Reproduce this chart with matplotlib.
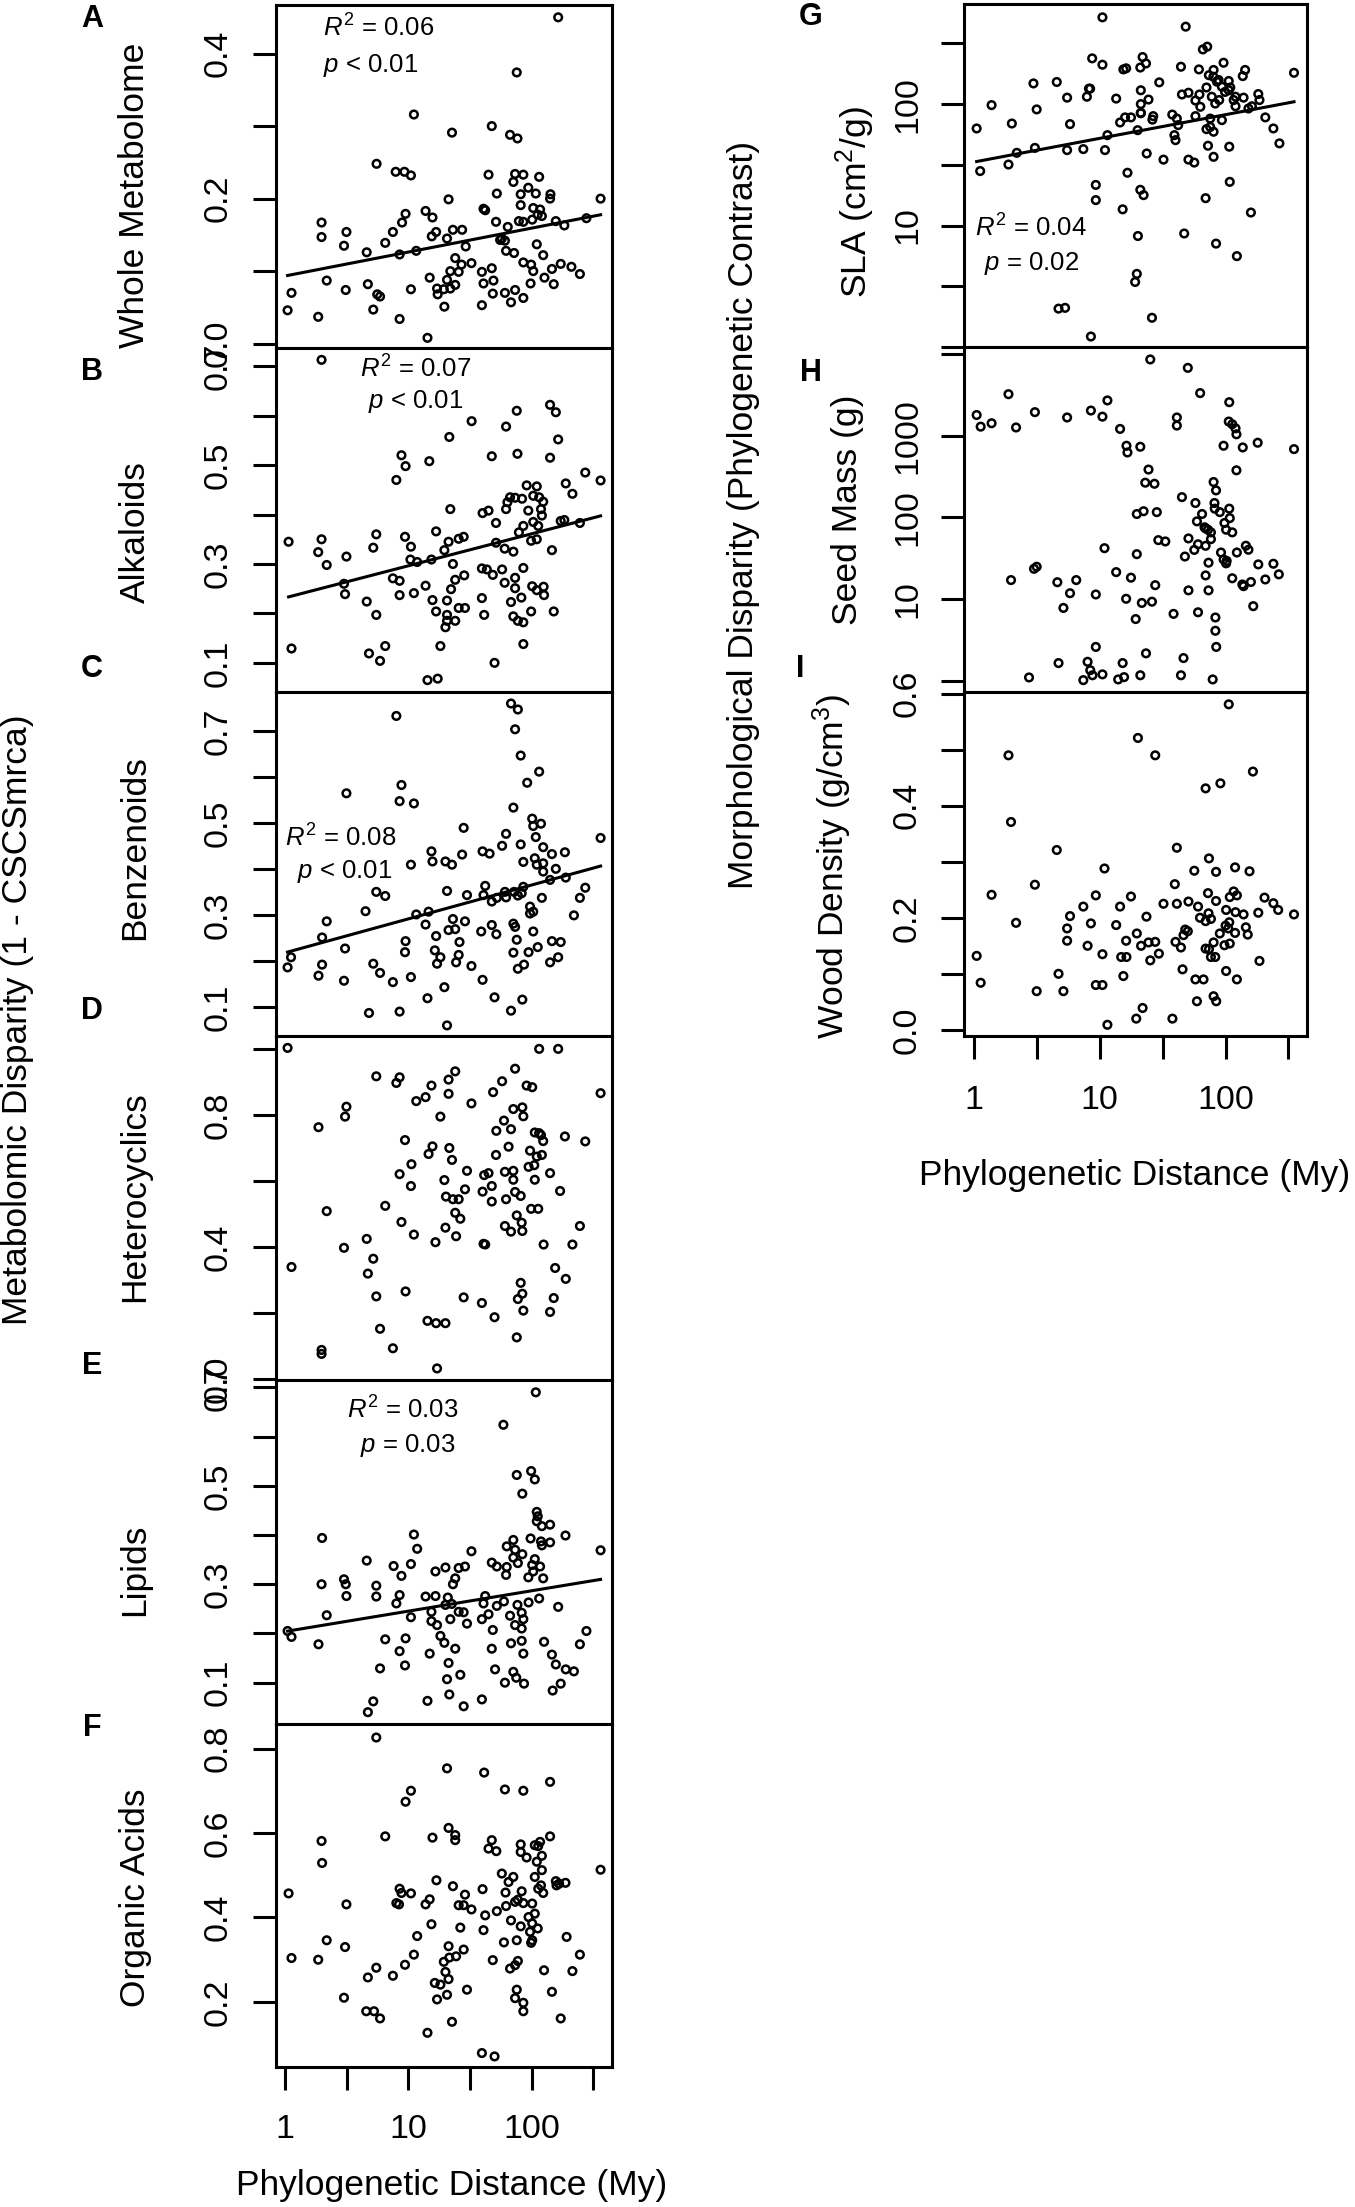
import numpy as np
import matplotlib
matplotlib.use("Agg")
import matplotlib.pyplot as plt
from matplotlib.ticker import NullLocator

plt.rcParams['font.family'] = ['Liberation Sans', 'DejaVu Sans']
plt.rcParams['mathtext.fontset'] = 'custom'
plt.rcParams['mathtext.rm'] = 'Liberation Sans'
plt.rcParams['mathtext.it'] = 'Liberation Sans:italic'
plt.rcParams['mathtext.bf'] = 'Liberation Sans:bold'

# ---------------- data (phylogenetic distance in My, disparity values) ----------------
dist_A = [164, 75.7, 11.1, 22.6, 47.5, 66.8, 76.7, 5.53, 7.9, 9.3,
          10.5, 44.7, 73.4, 85.6, 115, 71.1, 93.9, 52.2, 81.5, 108,
          142, 141, 21.2, 362, 81.5, 40.7, 42.0, 103, 117, 112,
          121, 13.8, 15.7, 9.5, 8.9, 7.5, 6.5, 4.6, 8.5, 11.6,
          1.98, 1.98, 3.15, 3.01, 15.5, 16.8, 20.6, 23.0, 27.3, 29.2,
          51.4, 64.0, 57.3, 60.7, 78.8, 85.6, 101, 157, 184, 278,
          62.0, 72.0, 110, 124, 85.6, 99.0, 103, 146, 172, 210,
          246, 127, 151, 98.0, 24.0, 27.0, 32.5, 21.9, 25.6, 20.6,
          24.0, 14.9, 17.1, 19.4, 21.9, 17.3, 39.5, 47.5, 40.7, 49.0,
          48.4, 60.7, 73.4, 68.0, 85.6, 39.5, 19.6, 14.3, 8.5, 5.2,
          5.9, 4.7, 3.11, 2.18, 1.86, 1.13, 1.05, 10.5, 5.6, 55.5]
whole_A = [0.450, 0.374, 0.316, 0.291, 0.300, 0.288, 0.283, 0.248, 0.237, 0.237,
           0.232, 0.233, 0.234, 0.233, 0.230, 0.223, 0.215, 0.207, 0.206, 0.207,
           0.206, 0.200, 0.199, 0.200, 0.191, 0.186, 0.184, 0.187, 0.185, 0.178,
           0.176, 0.183, 0.174, 0.179, 0.167, 0.154, 0.139, 0.126, 0.123, 0.128,
           0.167, 0.147, 0.154, 0.135, 0.148, 0.154, 0.145, 0.157, 0.157, 0.134,
           0.168, 0.161, 0.145, 0.142, 0.169, 0.168, 0.171, 0.169, 0.163, 0.173,
           0.128, 0.125, 0.137, 0.122, 0.112, 0.109, 0.100, 0.103, 0.110, 0.106,
           0.096, 0.091, 0.082, 0.083, 0.118, 0.109, 0.111, 0.100, 0.099, 0.088,
           0.081, 0.091, 0.076, 0.075, 0.076, 0.068, 0.099, 0.104, 0.083, 0.087,
           0.069, 0.070, 0.074, 0.057, 0.063, 0.053, 0.051, 0.008, 0.034, 0.047,
           0.065, 0.082, 0.074, 0.087, 0.037, 0.070, 0.046, 0.075, 0.068, 0.143]

dist_B = [1.98, 141, 157, 75.7, 32.6, 62.0, 21.5, 164, 8.8, 9.5,
          8.0, 14.8, 47.5, 76.7, 141, 272, 362, 189, 214, 91.1,
          110, 66.8, 73.4, 83.6, 103, 115, 124, 63.6, 62.0, 93.9,
          119, 21.9, 40.0, 44.7, 121, 51.4, 103, 85.6, 78.8, 113,
          172, 184, 246, 5.5, 16.8, 9.4, 10.5, 25.6, 28.1, 21.2,
          19.6, 5.2, 1.98, 1.86, 3.15, 2.18, 1.07, 10.4, 11.8, 15.4,
          23.0, 51.4, 60.4, 71.1, 99.0, 110, 146, 39.5, 43.3, 48.4,
          57.6, 85.6, 73.4, 60.4, 73.4, 101, 125, 110, 126, 82.5,
          68.0, 3.01, 3.07, 7.5, 8.5, 8.5, 11.1, 13.8, 28.4, 24.0,
          22.2, 20.6, 15.7, 39.5, 4.6, 5.5, 16.8, 20.6, 25.6, 28.8,
          24.0, 20.6, 20.0, 41.2, 71.0, 77.3, 85.6, 99.0, 151, 1.13,
          4.8, 5.9, 6.5, 18.2, 85.6, 50.0, 14.3, 17.3]
alkaloids = [0.713, 0.622, 0.607, 0.610, 0.589, 0.578, 0.557, 0.552, 0.520, 0.498,
             0.470, 0.508, 0.518, 0.523, 0.515, 0.485, 0.469, 0.463, 0.442, 0.459,
             0.457, 0.435, 0.434, 0.432, 0.438, 0.435, 0.426, 0.425, 0.411, 0.408,
             0.411, 0.411, 0.403, 0.408, 0.398, 0.383, 0.385, 0.377, 0.364, 0.377,
             0.387, 0.389, 0.383, 0.360, 0.366, 0.355, 0.335, 0.351, 0.355, 0.345,
             0.328, 0.333, 0.350, 0.324, 0.315, 0.298, 0.345, 0.309, 0.304, 0.309,
             0.300, 0.343, 0.331, 0.325, 0.347, 0.350, 0.328, 0.291, 0.289, 0.278,
             0.289, 0.292, 0.272, 0.262, 0.251, 0.255, 0.254, 0.247, 0.237, 0.232,
             0.223, 0.260, 0.239, 0.271, 0.266, 0.237, 0.241, 0.256, 0.277, 0.268,
             0.249, 0.226, 0.227, 0.231, 0.224, 0.197, 0.204, 0.197, 0.211, 0.211,
             0.185, 0.185, 0.172, 0.197, 0.194, 0.185, 0.182, 0.204, 0.204, 0.129,
             0.119, 0.104, 0.134, 0.134, 0.138, 0.100, 0.065, 0.068]

dist_C = [68.0, 77.3, 8.0, 73.4, 81.5, 115, 92.0, 8.8, 3.15, 8.5,
          11.1, 71.1, 101, 119, 103, 28.1, 62.0, 108, 362, 57.6,
          81.5, 124, 15.4, 15.7, 20.0, 22.6, 27.3, 40.0, 45.6, 146,
          186, 10.5, 85.6, 106, 110, 124, 157, 124, 141, 189,
          272, 246, 220, 5.5, 6.5, 20.6, 29.9, 42.0, 40.7, 47.5,
          52.2, 60.7, 62.0, 72.0, 77.3, 85.6, 83.0, 121, 97.0, 103,
          97.0, 4.5, 11.6, 14.6, 2.18, 2.0, 13.8, 16.8, 21.2, 23.0,
          24.0, 28.8, 26.0, 39.0, 47.5, 51.7, 71.1, 73.4, 103, 75.7,
          112, 94.4, 71.1, 146, 172, 164, 141, 86.7, 77.3, 3.07,
          9.5, 9.4, 16.4, 18.2, 17.1, 25.6, 24.4, 32.5, 1.12, 1.05,
          2.0, 1.87, 3.01, 5.2, 5.9, 7.5, 10.5, 40.0, 19.6, 14.3,
          50.0, 84.0, 68.0, 4.8, 8.5, 20.6]
benzenoids = [0.760, 0.747, 0.733, 0.704, 0.647, 0.612, 0.588, 0.583, 0.565, 0.548,
              0.543, 0.534, 0.510, 0.499, 0.494, 0.490, 0.477, 0.470, 0.468, 0.451,
              0.454, 0.448, 0.439, 0.417, 0.417, 0.410, 0.432, 0.439, 0.434, 0.433,
              0.437, 0.410, 0.416, 0.424, 0.410, 0.413, 0.401, 0.395, 0.377, 0.382,
              0.360, 0.338, 0.300, 0.351, 0.342, 0.353, 0.344, 0.364, 0.344, 0.330,
              0.338, 0.351, 0.339, 0.351, 0.343, 0.362, 0.348, 0.338, 0.319, 0.308,
              0.304, 0.309, 0.302, 0.308, 0.287, 0.252, 0.280, 0.255, 0.268, 0.292,
              0.270, 0.287, 0.242, 0.265, 0.279, 0.259, 0.282, 0.275, 0.265, 0.247,
              0.231, 0.220, 0.219, 0.244, 0.242, 0.209, 0.198, 0.193, 0.184, 0.228,
              0.244, 0.220, 0.224, 0.209, 0.195, 0.214, 0.198, 0.190, 0.209, 0.187,
              0.193, 0.169, 0.158, 0.195, 0.175, 0.155, 0.166, 0.160, 0.144, 0.120,
              0.122, 0.117, 0.093, 0.088, 0.091, 0.061]

dist_D = [1.05, 115, 164, 73.4, 24.0, 5.5, 8.5, 8.0, 21.2, 57.6,
          91.0, 101, 15.4, 48.7, 21.2, 13.8, 11.6, 32.5, 362, 3.15,
          3.07, 71.0, 84.0, 85.6, 18.2, 59.6, 1.87, 51.7, 68.0, 106,
          115, 119, 186, 272, 124, 9.4, 15.7, 21.5, 14.6, 22.6,
          65.0, 51.4, 97.0, 110, 121, 10.6, 29.9, 94.4, 105, 8.5,
          41.2, 44.7, 60.7, 71.0, 141, 71.0, 106, 19.6, 10.5, 47.5,
          28.8, 40.0, 73.4, 81.5, 170, 20.2, 23.0, 25.6, 47.5, 62.0,
          6.5, 2.18, 99.0, 113, 24.0, 26.4, 75.7, 8.8, 20.0, 60.7,
          83.0, 68.0, 84.0, 246, 11.1, 24.4, 4.6, 16.6, 40.7, 42.0,
          125, 214, 3.01, 5.2, 1.13, 4.7, 155, 189, 81.5, 84.0,
          77.3, 9.5, 5.5, 28.1, 39.5, 151, 141, 85.6, 50.0, 14.3,
          16.8, 20.0, 5.9, 75.7, 7.5, 1.98, 1.98, 17.1]
heterocyclics = [1.003, 1.000, 1.000, 0.940, 0.932, 0.917, 0.914, 0.897, 0.907, 0.902,
                 0.889, 0.884, 0.889, 0.869, 0.864, 0.854, 0.842, 0.835, 0.866, 0.825,
                 0.795, 0.818, 0.823, 0.796, 0.795, 0.783, 0.763, 0.752, 0.757, 0.747,
                 0.745, 0.739, 0.735, 0.720, 0.721, 0.724, 0.705, 0.700, 0.682, 0.664,
                 0.704, 0.679, 0.692, 0.674, 0.679, 0.651, 0.631, 0.643, 0.648, 0.621,
                 0.618, 0.624, 0.628, 0.631, 0.624, 0.604, 0.604, 0.603, 0.585, 0.585,
                 0.575, 0.568, 0.567, 0.555, 0.570, 0.553, 0.545, 0.545, 0.538, 0.545,
                 0.525, 0.509, 0.516, 0.516, 0.504, 0.486, 0.496, 0.476, 0.459, 0.464,
                 0.474, 0.447, 0.449, 0.464, 0.438, 0.433, 0.425, 0.415, 0.410, 0.408,
                 0.408, 0.408, 0.398, 0.365, 0.340, 0.320, 0.337, 0.304, 0.292, 0.259,
                 0.243, 0.266, 0.251, 0.248, 0.231, 0.246, 0.204, 0.208, 0.188, 0.177,
                 0.170, 0.170, 0.153, 0.127, 0.094, 0.089, 0.077, 0.033]

dist_E = [108, 59.0, 75.7, 99.0, 106, 84.0, 110, 112, 110, 121,
          141, 11.1, 2.0, 188, 71.0, 98.0, 119, 141, 121, 62.8,
          73.4, 84.0, 362, 32.5, 11.8, 71.0, 106, 77.3, 101, 117,
          47.5, 52.2, 62.8, 62.0, 94.0, 124, 103, 4.6, 7.6, 10.5,
          8.8, 16.6, 20.0, 25.6, 28.8, 24.0, 23.0, 3.01, 3.11, 1.98,
          5.5, 3.15, 5.5, 8.5, 8.0, 13.8, 16.6, 20.9, 20.0, 22.5,
          42.0, 40.7, 52.2, 59.6, 76.7, 94.4, 115, 164, 2.18, 10.5,
          15.4, 15.4, 17.1, 21.9, 25.6, 28.1, 29.9, 39.5, 44.7, 66.8,
          83.0, 73.4, 85.6, 83.0, 48.4, 278, 1.05, 1.13, 1.87, 6.5,
          9.5, 18.2, 19.6, 8.5, 14.9, 24.0, 47.5, 68.0, 83.0, 126,
          246, 85.6, 146, 157, 189, 220, 9.4, 5.9, 21.2, 50.5,
          20.6, 26.4, 71.0, 75.0, 60.7, 86.7, 172, 148, 21.5, 39.5,
          14.3, 28.1, 5.2, 4.7]
lipids = [0.690, 0.624, 0.522, 0.530, 0.513, 0.484, 0.447, 0.438, 0.428, 0.418,
          0.421, 0.401, 0.394, 0.399, 0.390, 0.393, 0.387, 0.385, 0.379, 0.377,
          0.370, 0.361, 0.369, 0.367, 0.372, 0.354, 0.351, 0.343, 0.339, 0.336,
          0.344, 0.336, 0.335, 0.319, 0.314, 0.312, 0.326, 0.348, 0.337, 0.341,
          0.317, 0.326, 0.334, 0.333, 0.336, 0.312, 0.300, 0.310, 0.300, 0.300,
          0.297, 0.276, 0.275, 0.278, 0.261, 0.275, 0.276, 0.273, 0.258, 0.260,
          0.276, 0.261, 0.256, 0.265, 0.258, 0.263, 0.271, 0.254, 0.237, 0.233,
          0.244, 0.225, 0.217, 0.229, 0.244, 0.243, 0.220, 0.229, 0.239, 0.236,
          0.242, 0.217, 0.229, 0.210, 0.207, 0.205, 0.205, 0.193, 0.178, 0.188,
          0.190, 0.195, 0.181, 0.164, 0.159, 0.169, 0.169, 0.180, 0.185, 0.183,
          0.178, 0.159, 0.157, 0.137, 0.127, 0.123, 0.135, 0.129, 0.140, 0.127,
          0.107, 0.116, 0.122, 0.110, 0.100, 0.098, 0.098, 0.084, 0.076, 0.066,
          0.063, 0.052, 0.062, 0.040]

dist_F = [5.5, 20.6, 41.2, 141, 10.5, 9.5, 60.7, 85.6, 21.2, 24.0,
          24.0, 15.7, 6.5, 1.98, 2.0, 47.5, 44.7, 51.7, 81.5, 81.5,
          91.0, 106, 117, 113, 141, 121, 110, 362, 1.07, 3.15,
          16.9, 23.0, 57.3, 71.0, 65.0, 106, 121, 119, 113, 124,
          157, 167, 188, 159, 8.5, 8.8, 10.5, 8.0, 8.4, 40.0,
          61.4, 83.0, 28.8, 14.9, 13.8, 25.6, 28.1, 32.5, 73.4, 77.3,
          85.6, 101, 62.0, 52.2, 42.0, 106, 94.4, 68.0, 15.4, 26.4,
          40.7, 81.5, 101, 112, 97.0, 11.8, 2.18, 3.07, 59.6, 75.7,
          101, 99.0, 192, 21.2, 28.1, 24.4, 21.5, 19.4, 11.1, 9.4,
          1.13, 1.86, 48.4, 77.3, 66.8, 73.4, 246, 20.0, 21.2, 5.5,
          4.7, 7.5, 126, 214, 16.4, 18.2, 29.9, 20.6, 17.1, 3.01,
          75.7, 73.4, 85.6, 85.6, 146, 4.56, 5.27, 5.9, 172, 22.6,
          14.3, 39.5, 50.0]
organic_acids = [0.826, 0.753, 0.743, 0.721, 0.700, 0.674, 0.703, 0.700, 0.612, 0.595,
                 0.583, 0.589, 0.592, 0.581, 0.529, 0.583, 0.563, 0.557, 0.573, 0.555,
                 0.542, 0.571, 0.579, 0.569, 0.592, 0.546, 0.532, 0.513, 0.457, 0.431,
                 0.488, 0.474, 0.504, 0.496, 0.484, 0.496, 0.512, 0.476, 0.468, 0.458,
                 0.486, 0.480, 0.482, 0.476, 0.468, 0.458, 0.457, 0.434, 0.431, 0.467,
                 0.459, 0.462, 0.454, 0.443, 0.431, 0.429, 0.429, 0.419, 0.437, 0.442,
                 0.434, 0.433, 0.427, 0.415, 0.405, 0.409, 0.401, 0.393, 0.384, 0.376,
                 0.370, 0.379, 0.386, 0.374, 0.366, 0.356, 0.346, 0.330, 0.341, 0.346,
                 0.346, 0.340, 0.354, 0.332, 0.324, 0.308, 0.305, 0.295, 0.312, 0.288,
                 0.304, 0.300, 0.299, 0.297, 0.279, 0.287, 0.312, 0.271, 0.254, 0.281,
                 0.258, 0.262, 0.275, 0.273, 0.245, 0.241, 0.229, 0.217, 0.206, 0.210,
                 0.229, 0.209, 0.198, 0.178, 0.224, 0.178, 0.178, 0.161, 0.161, 0.153,
                 0.127, 0.079, 0.071]

dist_G = [10.5, 48.2, 66.0, 71.5, 8.7, 10.5, 21.9, 23.3, 21.0, 15.4,
          16.2, 44.2, 61.4, 96.4, 80.3, 73.7, 143, 137, 2.97, 4.55,
          8.38, 1.38, 3.15, 5.5, 7.9, 8.2, 13.5, 21.2, 29.7, 24.4,
          21.2, 21.2, 45.0, 50.7, 62.0, 57.6, 63.0, 70.5, 77.7, 85.3,
          93.5, 99.0, 109, 106, 120, 139, 182, 186, 82.8, 89.0,
          120, 152, 162, 350, 1.05, 2.0, 5.8, 14.5, 15.9, 17.7,
          26.2, 26.6, 21.2, 37.7, 41.0, 42.0, 57.6, 75.5, 75.5, 70.5,
          80.3, 93.5, 207, 240, 268, 20.0, 11.5, 3.05, 2.19, 5.5,
          7.4, 11.0, 23.6, 32.1, 39.2, 40.0, 50.7, 56.4, 72.5, 80.3,
          107, 1.88, 1.12, 16.6, 9.3, 9.3, 21.0, 22.3, 108, 69.4,
          15.2, 159, 20.1, 46.9, 84.0, 123, 19.7, 19.1, 4.7, 5.3,
          26.0, 8.5, 88.0, 80.0, 106, 116]
sla = [518, 434, 282, 297, 238, 211, 244, 216, 200, 193,
       197, 203, 193, 219, 191, 173, 191, 170, 148, 152,
       134, 98.1, 90.4, 113, 115, 134, 111, 130, 151, 109,
       100, 84.8, 120, 124, 120, 107, 95.0, 137, 115, 153,
       139, 126, 137, 155, 115, 113, 121, 108, 101, 108,
       96.0, 92.0, 96.0, 181, 63.0, 69.2, 68.4, 70.6, 77.7, 77.7,
       74.5, 79.6, 84.0, 82.0, 76.0, 67.1, 79.6, 76.0, 64.8, 62.2,
       59.2, 73.8, 77.7, 63.0, 47.5, 61.0, 55.5, 43.6, 39.7, 41.8,
       42.6, 41.8, 39.2, 34.9, 55.5, 50.5, 34.9, 33.0, 45.4, 36.8,
       44.6, 31.8, 28.1, 27.2, 21.6, 16.2, 19.7, 17.8, 22.9, 16.8,
       13.6, 12.8, 8.2, 8.6, 7.1, 5.6, 4.0, 3.43, 2.07, 2.1,
       1.74, 1.22, 158, 168, 130, 108]

dist_H = [25.2, 50.1, 1.88, 62.8, 11.5, 107, 1.05, 1.13, 1.38, 2.16,
          3.05, 5.5, 8.5, 10.5, 14.5, 41.0, 41.0, 106, 113, 120,
          122, 96.4, 137, 180, 350, 16.3, 16.6, 21.0, 24.4, 23.0,
          27.2, 122, 80.3, 84.0, 45.0, 57.6, 81.6, 82.0, 19.7, 22.3,
          28.4, 65.0, 90.0, 107, 108, 59.2, 69.4, 72.5, 76.5, 98.0,
          101, 113, 76.5, 50.7, 29.2, 33.2, 10.9, 19.7, 60.4, 56.4,
          69.4, 47.5, 92.0, 123, 145, 152, 73.2, 96.4, 101, 182,
          240, 265, 207, 113, 136, 159, 69.4, 73.2, 50.7, 27.6,
          17.7, 13.5, 3.0, 3.15, 1.97, 4.6, 6.5, 5.8, 9.3, 16.2,
          21.6, 26.0, 5.14, 19.3, 38.6, 60.4, 83.0, 83.0, 84.3, 166,
          9.3, 23.3, 46.3, 4.7, 8.0, 8.4, 15.2, 2.74, 7.4, 8.75,
          10.5, 14.0, 15.6, 21.0, 44.2, 79.0, 139, 102, 68.0]
seed_mass = [8570, 6760, 3220, 3320, 2700, 2570, 1790, 1290, 1420, 1260,
             1940, 1670, 2030, 1710, 1210, 1670, 1330, 1490, 1380, 1230,
             1040, 753, 718, 820, 685, 753, 623, 732, 385, 266,
             258, 377, 271, 214, 177, 150, 150, 128, 110, 119,
             116, 110, 116, 128, 98.0, 89.5, 73.4, 70.7, 65.6, 85.4,
             70.7, 65.6, 54.2, 55.3, 52.7, 50.8, 42.0, 35.5, 46.9, 40.0,
             44.9, 33.2, 37.2, 37.2, 45.0, 40.2, 27.9, 30.6, 27.4, 26.6,
             27.1, 20.1, 17.4, 18.0, 15.1, 16.2, 19.5, 12.8, 12.8, 14.8,
             18.3, 21.4, 23.5, 24.9, 17.1, 16.1, 17.1, 11.8, 11.4, 10.1,
             8.98, 9.3, 7.8, 5.7, 6.6, 6.9, 5.96, 4.1, 2.6, 8.2,
             2.6, 2.17, 1.9, 1.65, 1.71, 1.35, 1.65, 1.1, 1.02, 1.17,
             1.2, 1.04, 1.11, 1.17, 1.17, 1.04, 14.4, 29.3, 75.7]

dist_I = [106, 20.1, 1.88, 27.6, 165, 91.0, 69.4, 1.97, 4.55, 41.0,
          73.8, 10.9, 56.4, 84.0, 119, 155, 3.05, 39.5, 1.38, 9.3,
          17.7, 72.5, 116, 123, 108, 84.0, 204, 240, 32.1, 41.0,
          50.7, 60.4, 7.4, 14.5, 262, 101, 120, 139, 182, 350,
          5.8, 23.5, 73.2, 62.6, 69.4, 76.5, 2.16, 8.5, 13.5, 5.5,
          107, 100, 105, 145, 47.8, 50.1, 46.3, 19.7, 90.0, 119,
          150, 16.2, 21.3, 24.4, 27.6, 5.5, 40.0, 44.2, 80.3, 98.0,
          108, 69.4, 73.8, 8.0, 10.5, 14.8, 16.3, 29.5, 25.2, 76.5,
          82.8, 1.05, 186, 45.5, 4.7, 15.4, 101, 57.6, 66.8, 123,
          1.13, 9.3, 10.5, 3.15, 5.14, 80.3, 59.2, 84.3, 21.9, 19.5,
          37.8, 11.5]
wood_density = [0.581, 0.521, 0.490, 0.490, 0.461, 0.440, 0.431, 0.371, 0.321, 0.325,
                0.306, 0.288, 0.284, 0.282, 0.290, 0.283, 0.259, 0.260, 0.241, 0.240,
                0.238, 0.244, 0.247, 0.240, 0.237, 0.230, 0.236, 0.226, 0.225, 0.225,
                0.229, 0.220, 0.220, 0.220, 0.214, 0.214, 0.210, 0.206, 0.209, 0.206,
                0.203, 0.202, 0.208, 0.200, 0.194, 0.198, 0.191, 0.190, 0.187, 0.181,
                0.192, 0.186, 0.181, 0.183, 0.179, 0.176, 0.169, 0.172, 0.172, 0.173,
                0.170, 0.159, 0.150, 0.156, 0.157, 0.159, 0.157, 0.147, 0.156, 0.151,
                0.154, 0.145, 0.144, 0.150, 0.135, 0.130, 0.130, 0.136, 0.124, 0.130,
                0.130, 0.132, 0.123, 0.108, 0.100, 0.096, 0.105, 0.090, 0.090, 0.090,
                0.084, 0.080, 0.080, 0.069, 0.069, 0.060, 0.051, 0.051, 0.039, 0.020,
                0.020, 0.009]

# regression fits: y = intercept + slope * log10(distance)  (G: log10(y))
fit_A = (0.0933, 0.0330)
fit_B = (0.2315, 0.0648)
fit_C = (0.2187, 0.0736)
fit_E = (0.2039, 0.0414)
fit_G = (1.523, 0.195)

stats_A = ("$R^2$ = 0.06", "$p$ < 0.01")
stats_B = ("$R^2$ = 0.07", "$p$ < 0.01")
stats_C = ("$R^2$ = 0.08", "$p$ < 0.01")
stats_E = ("$R^2$ = 0.03", "$p$ = 0.03")
stats_G = ("$R^2$ = 0.04", "$p$ = 0.02")

x_tick_vals = [1, 3.1623, 10, 31.623, 100, 316.23]
x_tick_labels = ['1', '', '10', '', '100', '']

# ---------------- figure layout ----------------
W, H = 1355, 2207
fig = plt.figure(figsize=(W / 100, H / 100), dpi=100)


def fx(px):
    return px / W


def fy(py):
    return 1 - py / H


LW = 2.2
TICKLEN = 16.5
TICKFS = 24.5
LABFS = 25.5


def make_ax(x0, x1, y0, y1, xlim):
    ax = fig.add_axes([fx(x0), fy(y1), (x1 - x0) / W, (y1 - y0) / H])
    ax.set_xscale('log')
    ax.set_xlim(*xlim)
    ax.xaxis.set_minor_locator(NullLocator())
    for s in ax.spines.values():
        s.set_linewidth(LW)
    ax.tick_params(which='major', direction='out', length=TICKLEN, width=LW,
                   labelsize=TICKFS, colors='black')
    ax.tick_params(axis='x', bottom=False, labelbottom=False)
    return ax


def set_y(ax, ticks, labels, pad, log=False):
    if log:
        ax.set_yscale('log')
        ax.yaxis.set_minor_locator(NullLocator())
    ax.set_yticks(ticks)
    ax.set_yticklabels(labels, rotation=90, va='center', ha='right')
    ax.tick_params(axis='y', pad=pad)


def set_bottom_x(ax, pad):
    ax.tick_params(axis='x', bottom=True, labelbottom=True, pad=pad)
    ax.set_xticks(x_tick_vals)
    ax.set_xticklabels(x_tick_labels)


def pts(ax, x, y):
    ax.scatter(x, y, s=30, facecolors='none', edgecolors='black', linewidths=1.8, zorder=3)


def fitline(ax, x, fit, logy=False):
    xs = np.array([min(x), max(x)])
    yy = fit[0] + fit[1] * np.log10(xs)
    if logy:
        yy = 10 ** yy
    ax.plot(xs, yy, color='black', lw=2.2, zorder=2)


def stats(lines, left1, base1, left2, base2):
    fig.text(fx(left1), fy(base1), lines[0], fontsize=18.5, ha='left', va='baseline')
    fig.text(fx(left2), fy(base2), lines[1], fontsize=18.5, ha='left', va='baseline')


left_rows = [5, 348, 692, 1036, 1380, 1724, 2067]
right_rows = [4, 347, 692, 1036]
LX0, LX1 = 276, 612
RX0, RX1 = 964, 1307
xlim_L = (0.846, 448)
xlim_R = (0.833, 444)
YPAD_L, YPAD_R = 14, 13

# A
axA = make_ax(LX0, LX1, left_rows[0], left_rows[1], xlim_L)
axA.set_ylim(-0.006, 0.467)
set_y(axA, [0.0, 0.1, 0.2, 0.3, 0.4], ['0.0', '', '0.2', '', '0.4'], YPAD_L)
pts(axA, dist_A, whole_A)
fitline(axA, dist_A, fit_A)
stats(stats_A, 323, 37, 323, 72)

# B
axB = make_ax(LX0, LX1, left_rows[1], left_rows[2], xlim_L)
axB.set_ylim(0.041, 0.737)
set_y(axB, [0.1, 0.2, 0.3, 0.4, 0.5, 0.6, 0.7], ['0.1', '', '0.3', '', '0.5', '', '0.7'], YPAD_L)
pts(axB, dist_B, alkaloids)
fitline(axB, dist_B, fit_B)
stats(stats_B, 360, 378, 368, 408)

# C
axC = make_ax(LX0, LX1, left_rows[2], left_rows[3], xlim_L)
axC.set_ylim(0.038, 0.785)
set_y(axC, [0.1, 0.2, 0.3, 0.4, 0.5, 0.6, 0.7], ['0.1', '', '0.3', '', '0.5', '', '0.7'], YPAD_L)
pts(axC, dist_C, benzenoids)
fitline(axC, dist_C, fit_C)
stats(stats_C, 285, 847, 297, 878)

# D
axD = make_ax(LX0, LX1, left_rows[3], left_rows[4], xlim_L)
axD.set_ylim(-0.002, 1.039)
set_y(axD, [0.0, 0.2, 0.4, 0.6, 0.8, 1.0], ['0.0', '', '0.4', '', '0.8', ''], YPAD_L)
pts(axD, dist_D, heterocyclics)

# E
axE = make_ax(LX0, LX1, left_rows[4], left_rows[5], xlim_L)
axE.set_ylim(0.016, 0.715)
set_y(axE, [0.1, 0.2, 0.3, 0.4, 0.5, 0.6, 0.7], ['0.1', '', '0.3', '', '0.5', '', '0.7'], YPAD_L)
pts(axE, dist_E, lipids)
fitline(axE, dist_E, fit_E)
stats(stats_E, 347, 1419, 360, 1452)

# F
axF = make_ax(LX0, LX1, left_rows[5], left_rows[6], xlim_L)
axF.set_ylim(0.046, 0.858)
set_y(axF, [0.2, 0.4, 0.6, 0.8], ['0.2', '0.4', '0.6', '0.8'], YPAD_L)
pts(axF, dist_F, organic_acids)
set_bottom_x(axF, 17)

# G
axG = make_ax(RX0, RX1, right_rows[0], right_rows[1], xlim_R)
set_y(axG, [1, 3.1623, 10, 31.623, 100, 316.23], ['', '', '10', '', '100', ''], YPAD_R, log=True)
axG.set_ylim(1.0, 667)
pts(axG, dist_G, sla)
fitline(axG, dist_G, fit_G, logy=True)
stats(stats_G, 975, 237, 984, 270)

# H
axH = make_ax(RX0, RX1, right_rows[1], right_rows[2], xlim_R)
set_y(axH, [1, 10, 100, 1000, 10000], ['', '10', '100', '1000', ''], YPAD_R, log=True)
axH.set_ylim(0.73, 12170)
pts(axH, dist_H, seed_mass)

# I
axI = make_ax(RX0, RX1, right_rows[2], right_rows[3], xlim_R)
axI.set_ylim(-0.011, 0.603)
set_y(axI, [0.0, 0.1, 0.2, 0.3, 0.4, 0.5, 0.6], ['0.0', '', '0.2', '', '0.4', '', '0.6'], YPAD_R)
pts(axI, dist_I, wood_density)
set_bottom_x(axI, 19)

# panel y labels
panel_labels = [
    ("Whole Metabolome", 135, 195), ("Alkaloids", 135, 532), ("Benzenoids", 135, 848),
    ("Heterocyclics", 135, 1197), ("Lipids", 135, 1570), ("Organic Acids", 135, 1898),
    ("SLA (cm$^2$/g)", 855, 202), ("Seed Mass (g)", 848, 510),
    ("Wood Density (g/cm$^3$)", 832, 866),
]
for txt, px, py in panel_labels:
    fig.text(fx(px), fy(py), txt, rotation=90, fontsize=LABFS, ha='center', va='center')

# panel letters
letters = [("A", 92, 19), ("B", 92, 372), ("C", 92, 669), ("D", 92, 1011),
           ("E", 92, 1366), ("F", 92, 1728), ("G", 811, 17), ("H", 811, 373), ("I", 800, 669)]
for txt, px, py in letters:
    fig.text(fx(px), fy(py), txt, fontsize=22, fontweight='bold', ha='center', va='center')

# outer labels
fig.text(fx(18), fy(1020), "Metabolomic Disparity (1 - CSCSmrca)", rotation=90,
         fontsize=LABFS, ha='center', va='center')
fig.text(fx(744), fy(515), "Morphological Disparity (Phylogenetic Contrast)", rotation=90,
         fontsize=LABFS, ha='center', va='center')
fig.text(fx(452), fy(2185), "Phylogenetic Distance (My)", fontsize=LABFS, ha='center', va='center')
fig.text(fx(1135), fy(1175), "Phylogenetic Distance (My)", fontsize=LABFS, ha='center', va='center')

fig.savefig("out.png", dpi=100)
